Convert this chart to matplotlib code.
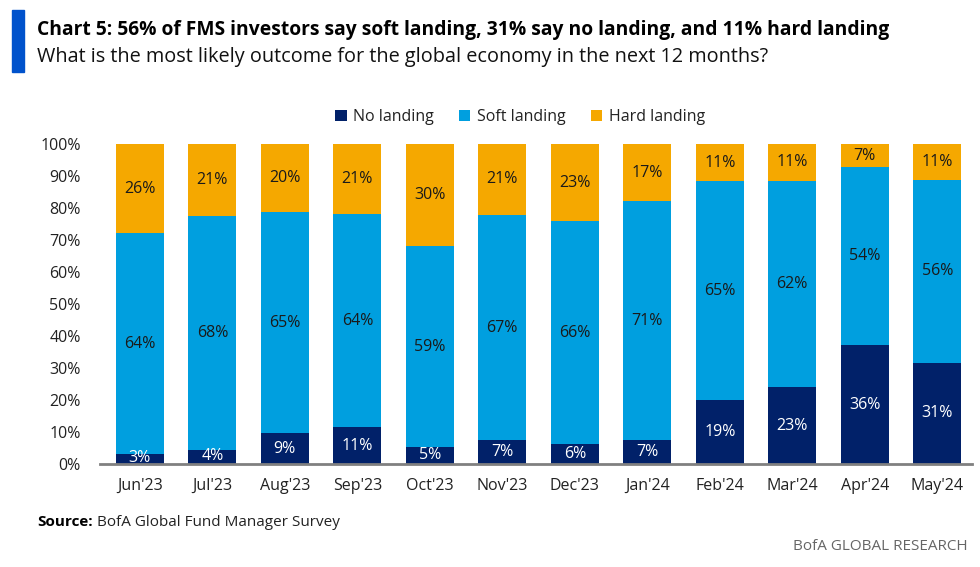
import matplotlib
matplotlib.use("Agg")
import matplotlib.pyplot as plt
from matplotlib.patches import Rectangle
import numpy as np

months = ["Jun'23", "Jul'23", "Aug'23", "Sep'23", "Oct'23", "Nov'23",
          "Dec'23", "Jan'24", "Feb'24", "Mar'24", "Apr'24", "May'24"]
no_landing = [3, 4, 9, 11, 5, 7, 6, 7, 19, 23, 36, 31]
soft_landing = [64, 68, 65, 64, 59, 67, 66, 71, 65, 62, 54, 56]
hard_landing = [26, 21, 20, 21, 30, 21, 23, 17, 11, 11, 7, 11]

NAVY = "#012169"
BLUE = "#009FDF"
ORANGE = "#F5A800"
TXT = "#1a1a1a"

plt.rcParams["font.family"] = ["Open Sans", "DejaVu Sans"]

fig = plt.figure(figsize=(9.8, 5.67), dpi=100)
ax = fig.add_axes([100 / 980, 103 / 567, 872 / 980, 320 / 567])

x = np.arange(len(months))
width = 0.66
no = np.array(no_landing, dtype=float)
soft = np.array(soft_landing, dtype=float)
hard = np.array(hard_landing, dtype=float)
# 100% stacked: each bar is scaled to its own total
tot = no + soft + hard
no_s = no / tot * 100
soft_s = soft / tot * 100
hard_s = hard / tot * 100

ax.bar(x, no_s, width, color=NAVY, label="No landing")
ax.bar(x, soft_s, width, bottom=no_s, color=BLUE, label="Soft landing")
ax.bar(x, hard_s, width, bottom=no_s + soft_s, color=ORANGE, label="Hard landing")

# segment labels show the raw survey values
for i in range(len(months)):
    y_no = no_s[i] / 2 if no_s[i] > 6 else no_s[i] / 2 + 0.3
    ax.text(x[i], y_no, f"{no_landing[i]}%",
            ha="center", va="center", color="white", fontsize=11.5)
    ax.text(x[i], no_s[i] + soft_s[i] / 2, f"{soft_landing[i]}%",
            ha="center", va="center", color=TXT, fontsize=11.5)
    ax.text(x[i], no_s[i] + soft_s[i] + hard_s[i] / 2, f"{hard_landing[i]}%",
            ha="center", va="center", color=TXT, fontsize=11.5)

ax.set_xlim(-0.55, 11.48)
ax.set_ylim(0, 100)
ax.set_yticks(np.arange(0, 101, 10))
ax.set_yticklabels([f"{v}%" for v in range(0, 101, 10)])
ax.set_xticks(x)
ax.set_xticklabels(months)
ax.tick_params(axis="both", length=0, labelsize=11.5, colors="#222222")
ax.tick_params(axis="y", pad=14)
ax.tick_params(axis="x", pad=10)
for s in ["top", "right", "left"]:
    ax.spines[s].set_visible(False)
ax.spines["bottom"].set_color("#808080")
ax.spines["bottom"].set_linewidth(2)

leg = fig.legend(loc="center", bbox_to_anchor=(520 / 980, 1 - 117 / 567), ncol=3,
                 frameon=False, fontsize=11.5, handlelength=0.7, handleheight=0.7,
                 handletextpad=0.4, columnspacing=1.6)
for t in leg.get_texts():
    t.set_color("#222222")

# header
fig.patches.append(Rectangle((12 / 980, 1 - 72 / 567), 12 / 980, 62 / 567,
                             transform=fig.transFigure, color="#0052CC"))
fig.text(37 / 980, 1 - 30 / 567,
         "Chart 5: 56% of FMS investors say soft landing, 31% say no landing, and 11% hard landing",
         fontsize=13.9, fontweight="bold", va="center", ha="left", color="black")
fig.text(37 / 980, 1 - 57 / 567,
         "What is the most likely outcome for the global economy in the next 12 months?",
         fontsize=14.3, va="center", ha="left", color="#111111")

fig.text(37 / 980, 1 - 522 / 567, "Source:", fontsize=11, fontweight="bold",
         va="center", ha="left", color="black")
fig.text(97 / 980, 1 - 522 / 567, "BofA Global Fund Manager Survey", fontsize=11,
         va="center", ha="left", color="#222222")
fig.text(968 / 980, 1 - 546 / 567, "BofA GLOBAL RESEARCH", fontsize=11,
         va="center", ha="right", color="#666666")

fig.savefig("out.png", dpi=100)
